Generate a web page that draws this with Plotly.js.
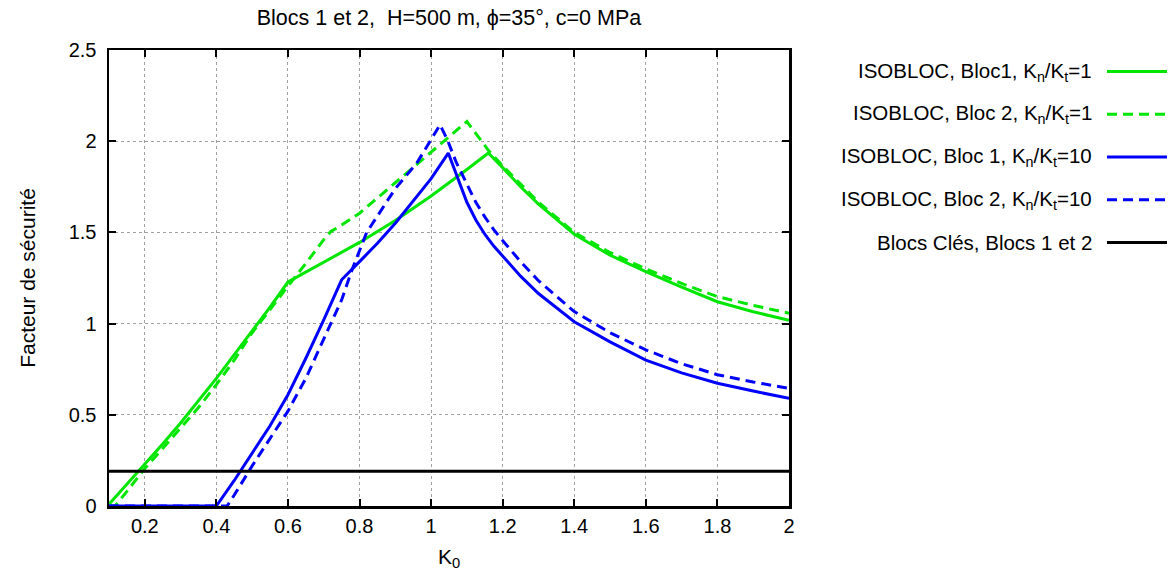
<!DOCTYPE html>
<html>
<head>
<meta charset="utf-8">
<script src="https://cdn.plot.ly/plotly-3.0.1.min.js"></script>
<style>html,body{margin:0;padding:0;background:#fff;}#chart{width:1168px;height:572px;}</style>
</head>
<body>
<div id="chart"></div>
<script>
// ---- Data ----
const seriesNames = [
  "ISOBLOC, Bloc1, K<sub>n</sub>/K<sub>t</sub>=1",
  "ISOBLOC, Bloc 2, K<sub>n</sub>/K<sub>t</sub>=1",
  "ISOBLOC, Bloc 1, K<sub>n</sub>/K<sub>t</sub>=10",
  "ISOBLOC, Bloc 2, K<sub>n</sub>/K<sub>t</sub>=10",
  "Blocs Clés, Blocs 1 et 2"
];

const k0_b1_kn1 = [0.1, 0.15, 0.2, 0.25, 0.3, 0.35, 0.4, 0.45, 0.5, 0.55, 0.6, 0.7, 0.8, 0.9, 1.0, 1.1, 1.16, 1.2, 1.25, 1.3, 1.4, 1.5, 1.6, 1.7, 1.8, 1.9, 2.0];
const fs_b1_kn1 = [0.01, 0.12, 0.225, 0.34, 0.455, 0.575, 0.70, 0.83, 0.96, 1.09, 1.228, 1.335, 1.445, 1.565, 1.70, 1.845, 1.935, 1.855, 1.75, 1.655, 1.49, 1.375, 1.285, 1.20, 1.12, 1.065, 1.018];

const k0_b2_kn1 = [0.1, 0.117, 0.15, 0.2, 0.25, 0.3, 0.35, 0.4, 0.45, 0.5, 0.55, 0.6, 0.65, 0.7, 0.72, 0.75, 0.8, 0.9, 1.0, 1.1, 1.16, 1.2, 1.3, 1.4, 1.5, 1.6, 1.7, 1.8, 1.9, 2.0];
const fs_b2_kn1 = [0, 0, 0.08, 0.205, 0.315, 0.425, 0.54, 0.665, 0.80, 0.95, 1.08, 1.205, 1.33, 1.46, 1.505, 1.54, 1.605, 1.77, 1.94, 2.108, 1.95, 1.865, 1.665, 1.50, 1.39, 1.30, 1.22, 1.148, 1.10, 1.057];

const k0_b1_kn10 = [0.1, 0.4, 0.45, 0.5, 0.55, 0.6, 0.65, 0.7, 0.75, 0.8, 0.85, 0.9, 0.95, 1.0, 1.048, 1.075, 1.1, 1.125, 1.15, 1.175, 1.2, 1.25, 1.3, 1.4, 1.5, 1.6, 1.7, 1.8, 1.9, 2.0];
const fs_b1_kn10 = [0, 0, 0.14, 0.29, 0.44, 0.61, 0.81, 1.02, 1.24, 1.34, 1.44, 1.55, 1.67, 1.795, 1.935, 1.79, 1.665, 1.568, 1.49, 1.425, 1.368, 1.26, 1.165, 1.01, 0.90, 0.80, 0.73, 0.673, 0.63, 0.59];

const k0_b2_kn10 = [0.1, 0.43, 0.45, 0.5, 0.55, 0.6, 0.65, 0.7, 0.75, 0.78, 0.82, 0.9, 0.96, 1.025, 1.045, 1.07, 1.1, 1.125, 1.15, 1.175, 1.2, 1.25, 1.3, 1.4, 1.5, 1.6, 1.7, 1.8, 1.9, 2.0];
const fs_b2_kn10 = [0, 0, 0.06, 0.22, 0.37, 0.52, 0.70, 0.92, 1.13, 1.30, 1.50, 1.74, 1.88, 2.09, 2.01, 1.885, 1.765, 1.665, 1.585, 1.515, 1.455, 1.34, 1.235, 1.066, 0.95, 0.856, 0.78, 0.72, 0.68, 0.645];

const k0_cles = [0.1, 2.0];
const fs_cles = [0.19, 0.19];

const xTickVals = [0.2, 0.4, 0.6, 0.8, 1, 1.2, 1.4, 1.6, 1.8, 2];
const yTickVals = [0, 0.5, 1, 1.5, 2, 2.5];

// ---- Styles ----
const GREEN = "#00e600", BLUE = "#0000ff", BLACK = "#000000";
const styles = [
  {color: GREEN, dash: "solid"},
  {color: GREEN, dash: "10px,6px"},
  {color: BLUE, dash: "solid"},
  {color: BLUE, dash: "10px,6px"},
  {color: BLACK, dash: "solid"}
];
const xs = [k0_b1_kn1, k0_b2_kn1, k0_b1_kn10, k0_b2_kn10, k0_cles];
const ys = [fs_b1_kn1, fs_b2_kn1, fs_b1_kn10, fs_b2_kn10, fs_cles];

const traces = xs.map((x, i) => ({
  x: x, y: ys[i], type: "scatter", mode: "lines",
  name: seriesNames[i], showlegend: false,
  line: {color: styles[i].color, width: 3, dash: styles[i].dash}
}));

// ---- Manual legend (text right-aligned, sample to the right) ----
const FONT = "Liberation Sans, Arial, Helvetica, sans-serif";
const plotL = 109, plotR = 789, plotT = 50, plotB = 506;
const pw = plotR - plotL, ph = plotB - plotT;
const annotations = [], shapes = [];
seriesNames.forEach((nm, i) => {
  const py = 71.5 + i * 42.75;
  const yp = (plotB - py) / ph;
  annotations.push({
    xref: "paper", yref: "paper", x: (1094 - plotL) / pw, y: yp,
    xanchor: "right", yanchor: "middle", text: nm, showarrow: false,
    font: {family: FONT, size: 20.5, color: "#000"}
  });
  shapes.push({
    type: "line", xref: "paper", yref: "paper",
    x0: (1107 - plotL) / pw, x1: (1167 - plotL) / pw, y0: yp, y1: yp,
    line: {color: styles[i].color, width: 3, dash: styles[i].dash}
  });
});

const axisCommon = {
  showline: true, linecolor: "#000", linewidth: 2.5, mirror: "ticks",
  ticks: "inside", ticklen: 7, tickwidth: 2, tickcolor: "#000",
  showgrid: true, gridcolor: "#a0a0a0", gridwidth: 1, griddash: "dot",
  zeroline: false, tickfont: {family: FONT, size: 20, color: "#000"}
};

const layout = {
  width: 1168, height: 572,
  margin: {l: plotL, r: 1168 - plotR, t: plotT, b: 572 - plotB, pad: 0},
  paper_bgcolor: "#fff", plot_bgcolor: "#fff",
  font: {family: FONT, size: 20, color: "#000"},
  title: {text: "Blocs 1 et 2,  H=500 m, ϕ=35°, c=0 MPa", x: 0.5, xref: "paper",
          y: 1 - 17 / 572, yref: "container", yanchor: "middle",
          font: {family: FONT, size: 21.5, color: "#000"}},
  xaxis: Object.assign({}, axisCommon, {
    range: [0.1, 2], tickvals: xTickVals,
    title: {text: "K<sub>0</sub>", font: {family: FONT, size: 21, color: "#000"}, standoff: 14}
  }),
  yaxis: Object.assign({}, axisCommon, {
    range: [0, 2.5], tickvals: yTickVals, ticklabelstandoff: 6,
    title: {text: "Facteur de sécurité", font: {family: FONT, size: 21, color: "#000"}, standoff: 28}
  }),
  annotations: annotations,
  shapes: shapes,
  showlegend: false
};

Plotly.newPlot("chart", traces, layout, {displayModeBar: false, staticPlot: true});
</script>
</body>
</html>
